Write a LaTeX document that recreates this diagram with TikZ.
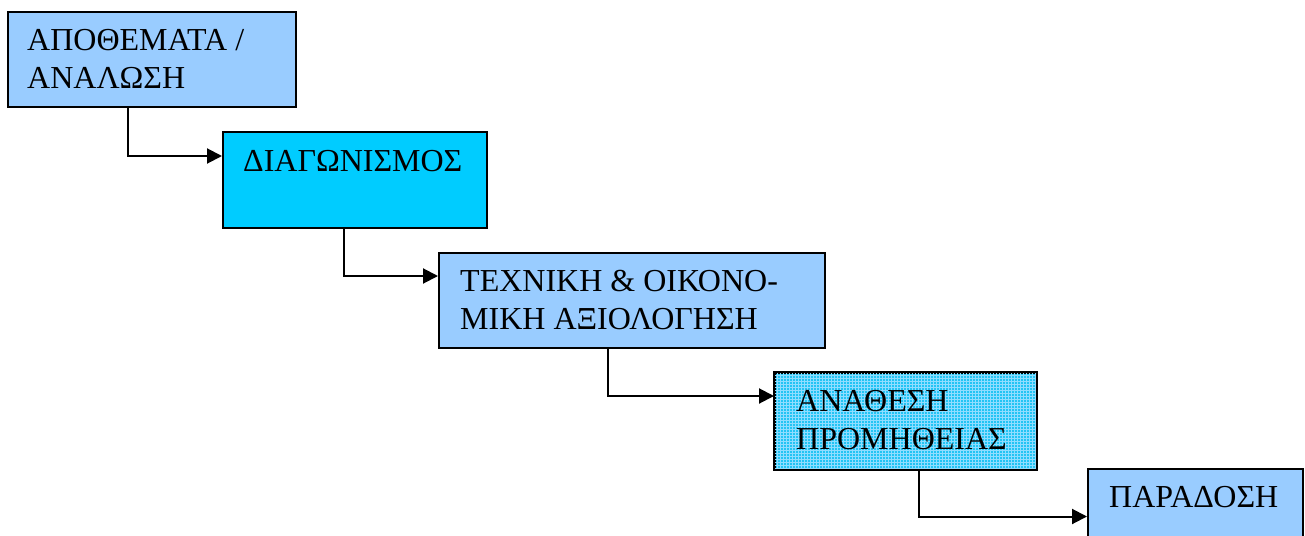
\documentclass[tikz,border=0pt]{standalone}
\usepackage{fontspec}
\setmainfont{Liberation Serif}
\usetikzlibrary{arrows.meta}
\definecolor{lblue}{HTML}{99CCFF}
\definecolor{cyanb}{HTML}{00CCFF}
\definecolor{cyanp}{HTML}{22C4F4}
\definecolor{gridc}{HTML}{8FDDFF}
\begin{document}
\begin{tikzpicture}[x=1pt,y=-1pt,
  box/.style={draw=black, line width=2pt, anchor=north west, inner sep=0pt, rectangle},
  lbl/.style={anchor=north west, inner sep=0pt, align=left, font=\fontsize{32}{38}\selectfont},
  conn/.style={line width=2pt, -{Triangle[length=15pt,width=15pt]}}]
\useasboundingbox (0,0) rectangle (1305,535);
\node[box, fill=lblue, minimum width=288pt, minimum height=95pt] (b1) at (7,11) {};
\node[box, fill=cyanb, minimum width=264pt, minimum height=96pt] (b2) at (222,131) {};
\node[box, fill=lblue, minimum width=386pt, minimum height=95pt] (b3) at (438,252) {};
\node[box, fill=cyanp, minimum width=261pt, minimum height=96pt] (b4) at (774,372) {};
\begin{scope}
  \clip (b4.north west) rectangle (b4.south east);
  \draw[gridc, line width=0.5pt, step=3pt] (b4.north west) grid (b4.south east);
\end{scope}
\draw[line width=2pt] (b4.north west) rectangle (b4.south east);
\node[box, fill=lblue, minimum width=215pt, minimum height=95pt] (b5) at (1087,468) {};

\node[lbl] (t1) at ([xshift=20pt,yshift=-18.5pt]b1.north west) {ΑΠΟΘΕΜΑΤΑ /\\ΑΝΑΛΩΣΗ};
\node[lbl] (t2) at ([xshift=21pt,yshift=-19.5pt]b2.north west) {ΔΙΑΓΩΝΙΣΜΟΣ};
\node[lbl] (t3) at ([xshift=22pt,yshift=-18pt]b3.north west) {ΤΕΧΝΙΚΗ \& ΟΙΚΟΝΟ-\\ΜΙΚΗ ΑΞΙΟΛΟΓΗΣΗ};
\node[lbl] (t4) at ([xshift=22pt,yshift=-18.5pt]b4.north west) {ΑΝΑΘΕΣΗ\\ΠΡΟΜΗΘΕΙΑΣ};
\node[lbl] (t5) at ([xshift=22pt,yshift=-18pt]b5.north west) {ΠΑΡΑΔΟΣΗ};

\draw[conn] ([xshift=-24pt]b1.south) |- ([yshift=24pt]b2.west);
\draw[conn] ([xshift=-11pt]b2.south) |- ([yshift=24.5pt]b3.west);
\draw[conn] ([xshift=-24pt]b3.south) |- ([yshift=25pt]b4.west);
\draw[conn] ([xshift=13.5pt]b4.south) |- (b5.west);
\end{tikzpicture}
\end{document}
